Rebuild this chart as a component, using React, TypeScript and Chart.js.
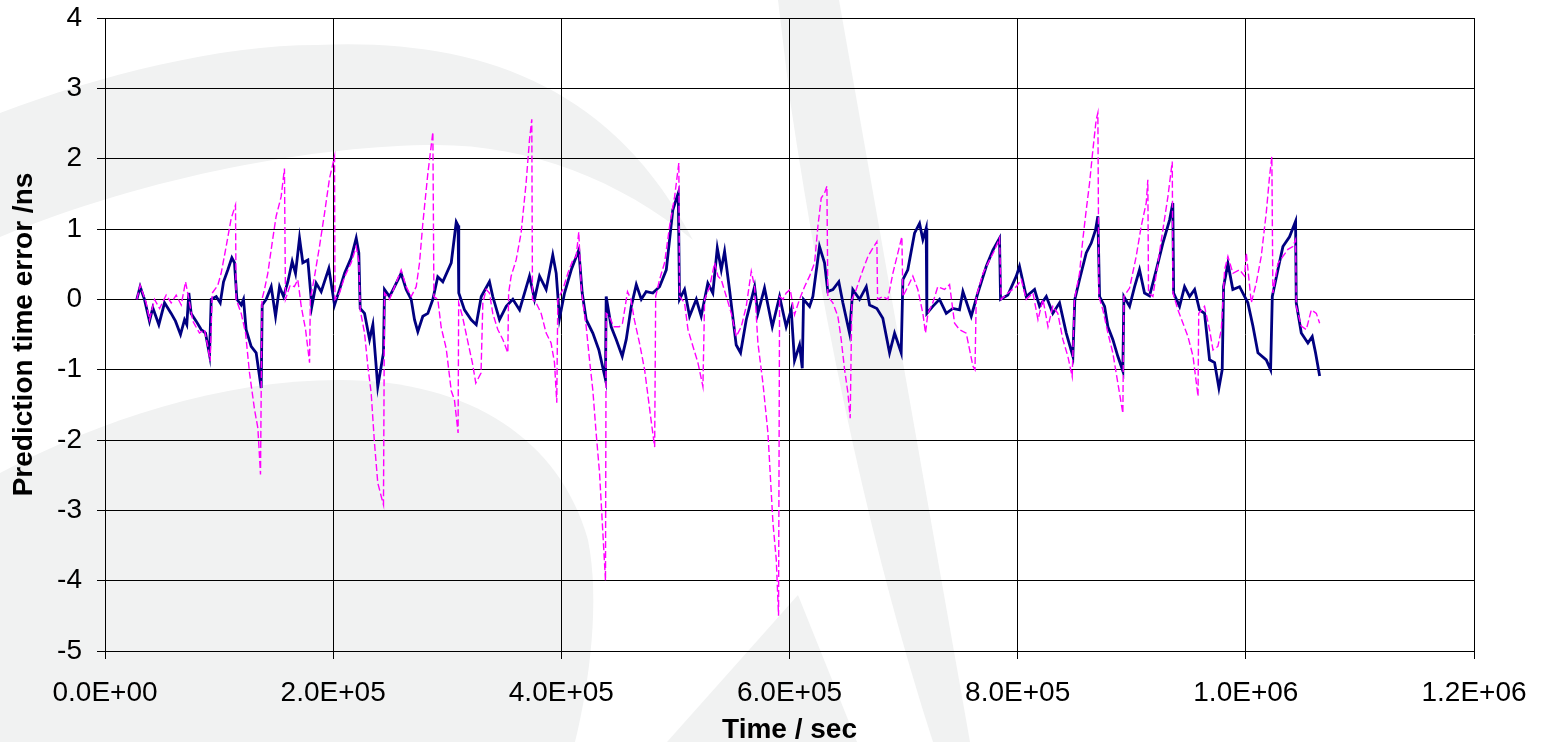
import React, { useEffect, useRef } from 'react';
import { Chart, registerables } from 'chart.js';

Chart.register(...registerables);

// ---- Data (time in kiloseconds, error in ns) ----
const TIME_UNIT = 1000; // kiloseconds -> seconds

const X_TICK_LABELS = ['0.0E+00', '2.0E+05', '4.0E+05', '6.0E+05', '8.0E+05', '1.0E+06', '1.2E+06'];
const Y_TICK_LABELS = ['-5', '-4', '-3', '-2', '-1', '0', '1', '2', '3', '4'];

const NAVY_TIME_KS = [
  27.9, 30.8, 34.6, 39.0, 41.9, 47.2, 52.2, 58.0, 61.8, 66.2,
  69.7, 71.7, 73.5, 75.5, 79.9, 84.3, 88.1, 91.6, 93.1, 97.5,
  101.0, 103.9, 107.7, 111.2, 113.5, 115.6, 119.4, 121.4, 123.7, 128.1,
  132.5, 136.9, 137.8, 141.3, 145.7, 149.5, 153.0, 156.5, 160.3, 164.1,
  167.0, 170.5, 173.4, 177.8, 181.3, 185.1, 189.5, 196.2, 201.2, 205.0,
  210.0, 215.8, 220.2, 222.5, 223.7, 227.5, 231.9, 234.8, 239.1, 242.1,
  244.1, 245.0, 249.4, 253.8, 259.6, 264.0, 268.4, 271.3, 274.2, 278.6,
  283.0, 287.4, 291.7, 296.1, 303.5, 307.9, 309.5, 310.1, 315.1, 321.0,
  325.4, 329.8, 337.0, 339.9, 345.8, 351.7, 357.5, 363.4, 372.1, 376.5,
  380.9, 386.7, 392.5, 395.5, 398.4, 402.8, 408.7, 415.3, 418.3, 421.8,
  427.6, 432.9, 438.7, 439.3, 443.7, 448.1, 453.4, 456.9, 461.3, 465.7,
  470.1, 474.4, 480.2, 486.1, 492.0, 497.7, 502.5, 503.6, 508.0, 512.4,
  518.3, 522.6, 528.4, 532.8, 536.7, 540.2, 543.1, 547.4, 553.3, 557.1,
  562.1, 569.4, 572.3, 578.1, 584.9, 591.3, 597.1, 601.5, 604.4, 608.8,
  611.2, 612.3, 617.6, 620.5, 626.3, 630.7, 633.6, 638.0, 643.2, 646.8,
  652.6, 655.5, 661.4, 667.3, 670.2, 676.6, 681.8, 687.7, 692.1, 697.9,
  699.4, 703.7, 709.6, 714.0, 716.9, 719.8, 720.4, 725.6, 731.5, 737.4,
  743.2, 749.0, 752.0, 759.3, 765.1, 772.5, 778.3, 784.1, 785.0, 791.4,
  798.8, 801.6, 807.5, 814.8, 819.2, 825.1, 830.8, 836.7, 842.6, 848.4,
  850.1, 854.2, 860.1, 864.5, 868.3, 870.3, 871.8, 876.2, 879.1, 883.4,
  887.8, 892.2, 893.1, 898.1, 902.5, 906.8, 911.2, 915.6, 921.5, 927.3,
  933.2, 936.0, 936.7, 941.9, 946.3, 950.7, 955.1, 959.4, 963.8, 968.2,
  972.6, 976.4, 979.3, 980.5, 984.3, 988.6, 994.5, 1001.8, 1006.2, 1010.6,
  1017.9, 1021.7, 1023.2, 1028.1, 1032.5, 1038.3, 1043.6, 1044.2, 1048.6, 1054.4,
  1058.2, 1061.1, 1064.7,
];
const NAVY_ERROR_NS = [
  0, 0.18, 0, -0.31, -0.12, -0.36, -0.05, -0.2, -0.31, -0.5,
  -0.29, -0.36, 0.09, -0.2, -0.31, -0.43, -0.48, -0.79, 0, 0.04,
  -0.05, 0.25, 0.42, 0.59, 0.52, 0, -0.08, 0, -0.43, -0.67,
  -0.76, -1.26, -0.08, 0, 0.18, -0.24, 0.18, 0.04, 0.25, 0.54,
  0.37, 0.87, 0.52, 0.56, -0.1, 0.23, 0.11, 0.44, -0.08, 0.11,
  0.37, 0.59, 0.87, 0.66, -0.13, -0.2, -0.57, -0.36, -1.24, -0.95,
  -0.76, 0.14, 0.04, 0.18, 0.37, 0.14, 0, -0.29, -0.46, -0.24,
  -0.2, 0, 0.32, 0.25, 0.52, 1.1, 1.05, 0.09, -0.15, -0.29,
  -0.36, 0.04, 0.25, 0.04, -0.29, -0.1, 0, -0.15, 0.33, 0,
  0.33, 0.14, 0.63, 0.37, -0.27, 0.09, 0.42, 0.7, 0.09, -0.29,
  -0.48, -0.72, -1.14, 0.04, -0.39, -0.57, -0.81, -0.57, -0.1, 0.21,
  0, 0.11, 0.09, 0.18, 0.42, 1.27, 1.51, 0, 0.14, -0.24,
  0, -0.24, 0.23, 0.09, 0.73, 0.42, 0.68, 0.14, -0.65, -0.76,
  -0.29, 0.18, -0.2, 0.16, -0.39, 0.04, -0.39, -0.15, -0.87, -0.65,
  -0.98, 0, -0.1, 0.04, 0.75, 0.52, 0.11, 0.14, 0.25, -0.05,
  -0.48, 0.14, 0, 0.18, -0.08, -0.13, -0.27, -0.76, -0.48, -0.76,
  0.28, 0.42, 0.94, 1.08, 0.85, 1.01, -0.2, -0.1, 0, -0.2,
  -0.13, -0.15, 0.11, -0.24, 0.09, 0.47, 0.7, 0.87, 0, 0.06,
  0.33, 0.47, 0.04, 0.14, -0.1, 0.04, -0.2, -0.05, -0.48, -0.81,
  0, 0.28, 0.66, 0.8, 0.99, 1.18, 0.04, -0.1, -0.39, -0.57,
  -0.81, -1.02, 0.04, -0.1, 0.18, 0.42, 0.09, 0.05, 0.42, 0.8,
  1.13, 1.37, 0.09, -0.1, 0.18, 0.04, 0.14, -0.15, -0.2, -0.86,
  -0.9, -1.26, -1.0, 0.18, 0.51, 0.14, 0.18, -0.05, -0.38, -0.76,
  -0.86, -1.0, 0.04, 0.42, 0.75, 0.89, 1.11, -0.05, -0.48, -0.62,
  -0.53, -0.76, -1.09,
];

const MAGENTA_TIME_KS = [
  27.9, 30.8, 36.1, 39.0, 43.4, 47.8, 53.6, 58.0, 62.4, 66.8,
  70.6, 72.5, 77.0, 82.8, 87.2, 90.1, 92.2, 94.0, 98.9, 101.8,
  106.2, 110.6, 114.4, 114.9, 119.4, 123.2, 126.7, 131.1, 134.0, 136.3,
  137.6, 139.8, 142.7, 146.5, 150.0, 154.4, 157.3, 158.2, 162.3, 166.0,
  169.0, 172.0, 175.8, 179.3, 180.0, 183.6, 188.0, 192.4, 196.8, 201.2,
  201.6, 205.6, 210.0, 215.8, 220.2, 222.5, 223.7, 227.5, 230.4, 233.3,
  236.2, 239.1, 242.1, 244.1, 245.0, 249.4, 253.8, 259.6, 264.0, 268.4,
  272.8, 275.7, 278.6, 283.0, 287.4, 288.3, 291.7, 294.7, 299.1, 303.5,
  306.3, 309.5, 310.0, 313.3, 317.6, 322.0, 325.0, 329.6, 331.2, 334.1,
  337.0, 339.9, 344.3, 348.7, 353.1, 353.8, 356.0, 360.4, 364.7, 369.1,
  372.1, 374.1, 374.7, 377.9, 382.3, 386.7, 391.0, 394.0, 396.0, 396.9,
  401.3, 405.7, 410.1, 413.0, 415.3, 417.4, 419.4, 421.8, 424.7, 427.6,
  430.5, 433.5, 436.4, 438.7, 439.3, 442.0, 446.0, 450.8, 453.6, 456.0,
  458.0, 461.0, 464.0, 468.5, 473.0, 476.0, 479.0, 481.8, 482.7, 486.1,
  490.5, 494.9, 499.3, 503.0, 503.6, 508.0, 511.0, 515.4, 519.7, 524.1,
  525.6, 530.0, 534.4, 537.3, 540.2, 544.6, 549.0, 553.3, 557.7, 562.1,
  566.5, 569.4, 572.3, 576.7, 581.1, 585.5, 588.4, 590.4, 591.3, 594.2,
  597.1, 600.6, 604.4, 608.8, 613.2, 617.6, 622.0, 624.9, 627.8, 630.7,
  632.8, 633.6, 638.0, 642.4, 645.3, 648.3, 651.2, 653.2, 654.7, 658.5,
  661.4, 664.4, 668.8, 673.1, 676.6, 677.2, 681.8, 686.2, 690.6, 695.0,
  698.5, 699.4, 703.7, 708.1, 712.5, 716.9, 719.2, 721.3, 725.6, 730.0,
  735.9, 740.3, 744.7, 749.0, 754.9, 757.9, 760.8, 762.6, 763.7, 769.6,
  775.4, 779.8, 784.1, 785.6, 791.4, 798.8, 803.2, 807.5, 813.4, 817.8,
  822.2, 826.6, 830.8, 835.2, 839.6, 844.0, 847.8, 849.8, 854.2, 857.1,
  860.1, 863.0, 865.9, 868.8, 870.3, 871.2, 874.7, 879.1, 883.4, 887.8,
  892.2, 893.1, 898.1, 903.9, 908.3, 912.7, 914.1, 914.7, 918.5, 922.9,
  927.3, 931.7, 935.5, 936.1, 940.5, 944.9, 949.3, 953.7, 958.1, 958.7,
  963.8, 968.2, 971.2, 975.5, 978.5, 981.4, 984.3, 988.7, 994.5, 998.9,
  1000.4, 1004.8, 1009.1, 1013.5, 1017.9, 1020.8, 1022.8, 1023.7, 1028.1, 1032.5,
  1036.9, 1041.2, 1043.6, 1044.2, 1048.6, 1053.0, 1057.4, 1061.8, 1064.7,
];
const MAGENTA_ERROR_NS = [
  0, 0.2, -0.05, -0.29, 0, -0.13, 0.06, -0.05, 0.06, -0.08,
  0.25, 0.09, -0.31, -0.48, -0.43, -0.67, -0.88, 0.09, 0.2, 0.37,
  0.75, 1.15, 1.34, 0, -0.2, -0.48, -1.05, -1.57, -1.83, -2.49,
  0, 0.14, 0.37, 0.8, 1.18, 1.46, 1.86, 0, 0.2, 0.18,
  0.28, -0.1, -0.43, -0.9, 0, 0.32, 0.75, 1.22, 1.72, 2.03,
  0, 0.09, 0.32, 0.52, 0.75, 0.54, -0.15, -0.48, -0.95, -1.33,
  -2.04, -2.61, -2.8, -2.92, 0.09, 0, 0.18, 0.42, 0.18, 0.04,
  0.18, 0.52, 1.08, 1.79, 2.38, 0.04, 0, -0.4, -0.7, -1.3,
  -1.43, -1.9, -0.05, -0.24, -0.57, -0.9, -1.19, -1.05, -0.05, 0.14,
  0.09, -0.2, -0.43, -0.57, -0.76, 0.09, 0.33, 0.56, 0.94, 1.65,
  2.27, 2.56, 0, -0.05, -0.2, -0.48, -0.62, -0.9, -1.47, 0,
  0.14, 0.37, 0.56, 0.61, 0.96, 0.18, -0.1, -0.39, -0.86, -1.29,
  -1.9, -2.47, -3.32, -4.0, -0.2, -0.24, -0.39, -0.39, -0.34, -0.1,
  0.11, 0, -0.29, -0.62, -1.0, -1.38, -1.76, -2.1, 0.04, 0.28,
  0.52, 1.04, 1.46, 1.94, 0.04, -0.05, -0.43, -0.67, -0.9, -1.24,
  0, 0.18, 0.52, 0.33, 0.28, 0.04, -0.2, -0.53, -0.39, -0.1,
  0.4, 0.18, -0.62, -1.19, -1.9, -3.18, -3.7, -4.5, 0.04, 0,
  0.09, 0.14, -0.22, 0, 0.18, 0.33, 0.52, 1.04, 1.44, 1.51,
  1.61, 0.04, -0.05, -0.24, -0.57, -1.0, -1.33, -1.69, 0, 0.14,
  0.28, 0.42, 0.61, 0.73, 0.82, 0, 0.04, 0, 0.37, 0.66,
  0.89, 0.04, 0.18, 0.33, 0.14, -0.2, -0.48, -0.2, -0.05, 0.18,
  0.14, 0.21, -0.34, -0.43, -0.48, -0.72, -0.95, -1.0, 0.04, 0.37,
  0.56, 0.7, 0.87, 0, 0.09, 0.18, 0.28, 0, 0.09, -0.29,
  0, -0.39, -0.1, -0.2, -0.57, -0.81, -1.1, 0, 0.37, 0.85,
  1.27, 1.65, 2.12, 2.55, 2.65, 0.04, -0.15, -0.48, -0.76, -1.19,
  -1.62, 0.04, 0.16, 0.61, 1.04, 1.37, 1.7, 0.09, 0.04, 0.51,
  0.99, 1.46, 1.96, 0.09, -0.15, -0.34, -0.53, -0.81, -1.38, -0.2,
  -0.1, -0.43, -0.72, -0.67, -0.43, 0.42, 0.61, 0.37, 0.42, 0.33,
  0.66, -0.05, 0.23, 0.61, 1.23, 1.75, 2.03, 0.09, 0.51, 0.61,
  0.71, 0.75, 0.85, -0.1, -0.38, -0.43, -0.15, -0.2, -0.34,
];

// ---- Styles ----
const FONT_FAMILY = "'Liberation Sans', Arial, Helvetica, sans-serif";
const NAVY = '#000080';
const MAGENTA = '#ff00ff';
const WATERMARK = '#f1f2f2';
const WIDTH = 1542;
const HEIGHT = 742;

function toPoints(timesKs: number[], values: number[]) {
  const n = Math.min(timesKs.length, values.length);
  const pts: { x: number; y: number }[] = [];
  for (let i = 0; i < n; i++) pts.push({ x: timesKs[i] * TIME_UNIT, y: values[i] });
  return pts;
}

// Decorative faint background logo (watermark), drawn behind everything.
const watermarkPlugin = {
  id: 'watermarkBackground',
  beforeDraw(chart: any) {
    const ctx = chart.ctx as CanvasRenderingContext2D;
    ctx.save();
    ctx.fillStyle = '#ffffff';
    ctx.fillRect(0, 0, chart.width, chart.height);
    ctx.fillStyle = WATERMARK;

    // upper crescent band
    ctx.beginPath();
    ctx.moveTo(0, 113);
    ctx.bezierCurveTo(100, 75, 220, 45, 317, 45);
    ctx.bezierCurveTo(470, 38, 610, 80, 693, 240);
    ctx.bezierCurveTo(620, 180, 530, 145, 436, 145);
    ctx.bezierCurveTo(320, 145, 150, 175, 0, 237);
    ctx.closePath();
    ctx.fill();

    // lower filled arch
    ctx.beginPath();
    ctx.moveTo(0, 473);
    ctx.bezierCurveTo(100, 420, 220, 380, 340, 380);
    ctx.bezierCurveTo(470, 380, 560, 440, 588, 540);
    ctx.bezierCurveTo(600, 600, 590, 680, 575, 742);
    ctx.lineTo(0, 742);
    ctx.closePath();
    ctx.fill();

    // small wedge
    ctx.beginPath();
    ctx.moveTo(667, 742);
    ctx.lineTo(798, 595);
    ctx.lineTo(857, 742);
    ctx.closePath();
    ctx.fill();

    // diagonal stripe
    ctx.beginPath();
    ctx.moveTo(778, 0);
    ctx.lineTo(839, 0);
    ctx.lineTo(970, 742);
    ctx.lineTo(933, 742);
    ctx.quadraticCurveTo(845, 470, 790, 100);
    ctx.closePath();
    ctx.fill();

    ctx.restore();
  },
};

export default function App() {
  const canvasRef = useRef<HTMLCanvasElement | null>(null);

  useEffect(() => {
    document.body.style.margin = '0';
    const canvas = canvasRef.current;
    if (!canvas) return;

    const tickFont = { family: FONT_FAMILY, size: 28 };
    const titleFont = { family: FONT_FAMILY, size: 28, weight: 'bold' as const };

    const chart = new Chart(canvas, {
      type: 'line',
      data: {
        datasets: [
          {
            label: 'Navy',
            data: toPoints(NAVY_TIME_KS, NAVY_ERROR_NS),
            borderColor: NAVY,
            backgroundColor: NAVY,
            borderWidth: 2.8,
            pointRadius: 0,
            tension: 0,
            fill: false,
            order: 1,
          },
          {
            label: 'Magenta',
            data: toPoints(MAGENTA_TIME_KS, MAGENTA_ERROR_NS),
            borderColor: MAGENTA,
            backgroundColor: MAGENTA,
            borderWidth: 1.4,
            borderDash: [7, 3],
            pointRadius: 0,
            tension: 0,
            fill: false,
            order: 0,
          },
        ],
      },
      options: {
        animation: false,
        responsive: false,
        devicePixelRatio: 1,
        layout: { padding: { top: 18, right: 68, left: 0, bottom: 0 } },
        plugins: {
          legend: { display: false },
          tooltip: { enabled: false },
        },
        scales: {
          x: {
            type: 'linear',
            min: 0,
            max: 1200000,
            afterFit: (scale: any) => {
              scale.height = 91;
              scale.paddingLeft = 0;
              scale.paddingRight = 0;
            },
            ticks: {
              stepSize: 200000,
              autoSkip: false,
              maxRotation: 0,
              minRotation: 0,
              padding: 17,
              color: '#000',
              font: tickFont,
              callback: (_v: any, i: number) => X_TICK_LABELS[i],
            },
            grid: { color: '#000', lineWidth: 1, tickLength: 8, drawTicks: true },
            border: { color: '#000', width: 1 },
            title: {
              display: true,
              text: 'Time / sec',
              color: '#000',
              font: { ...titleFont, lineHeight: 0.8 },
              padding: { top: 0, bottom: 1 },
            },
          },
          y: {
            type: 'linear',
            min: -5,
            max: 4,
            afterFit: (scale: any) => {
              scale.width = 105;
              scale.paddingTop = 0;
              scale.paddingBottom = 0;
            },
            ticks: {
              stepSize: 1,
              autoSkip: false,
              padding: 15,
              color: '#000',
              font: tickFont,
              callback: (_v: any, i: number) => Y_TICK_LABELS[i],
            },
            grid: { color: '#000', lineWidth: 1, tickLength: 8, drawTicks: true },
            border: { color: '#000', width: 1 },
            title: {
              display: true,
              text: 'Prediction time error /ns',
              color: '#000',
              font: titleFont,
              padding: { top: 7, bottom: 0 },
            },
          },
        },
      },
      plugins: [watermarkPlugin],
    } as any);

    return () => {
      chart.destroy();
    };
  }, []);

  return (
    <div style={{ position: 'absolute', left: 0, top: 0, width: WIDTH, height: HEIGHT }}>
      <canvas ref={canvasRef} width={WIDTH} height={HEIGHT} style={{ display: 'block' }} />
    </div>
  );
}
